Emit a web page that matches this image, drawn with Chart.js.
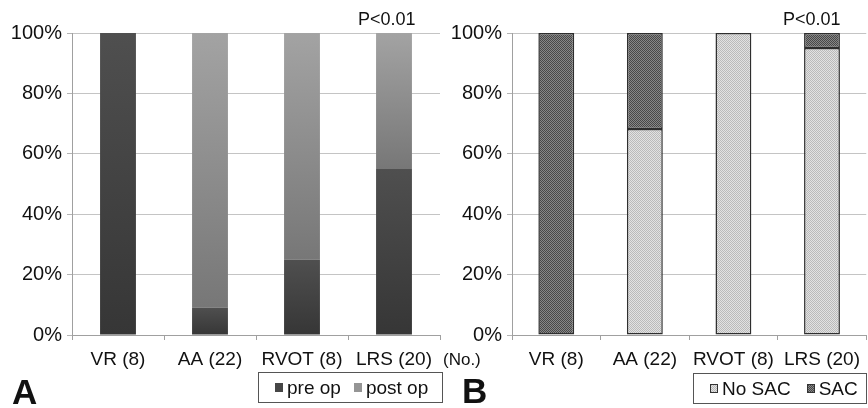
<!DOCTYPE html>
<html>
<head>
<meta charset="utf-8">
<script src="https://cdn.jsdelivr.net/npm/chart.js"></script>
<style>
  html, body { margin: 0; padding: 0; background: #fff; }
  body { width: 868px; height: 408px; position: relative; overflow: hidden;
         font-family: "Liberation Sans", Arial, sans-serif; color: #111; }
  canvas { position: absolute; top: 0; }
  #chartA { left: 0; }
  #chartB { left: 440px; }
  .note { position: absolute; white-space: nowrap; line-height: 1; }
  .panel { font-weight: bold; font-size: 35px; }
  .legend { position: absolute; box-sizing: border-box; height: 31px; border: 1px solid #555;
            background: #fff; display: flex; align-items: center; font-size: 19px; white-space: nowrap; }
  .legend .sq { display: inline-block; box-sizing: border-box; width: 8px; height: 9px; margin-right: 4px; }
</style>
</head>
<body>
<canvas id="chartA" width="445" height="408"></canvas>
<canvas id="chartB" width="428" height="408"></canvas>

<div class="note" style="left:358px; top:10px; font-size:18px;">P&lt;0.01</div>
<div class="note" style="left:783px; top:10px; font-size:18px;">P&lt;0.01</div>
<div class="note" style="left:443px; top:351px; font-size:17px;">(No.)</div>
<div class="note panel" style="left:12px; top:374px;">A</div>
<div class="note panel" style="left:462px; top:373px;">B</div>
<div class="legend" id="legendA" style="left:258px; top:372px; width:185px; padding-left:16px;"></div>
<div class="legend" id="legendB" style="left:693px; top:373px; width:174px; padding-left:16px;"></div>

<script>
// data (percent of patients per group)
const categories = ['VR (8)', 'AA (22)', 'RVOT (8)', 'LRS (20)'];
const percentTicks = [0, 20, 40, 60, 80, 100];

const preOp = [100, 9.1, 25, 55];
const postOp = [0, 90.9, 75, 45];

const noSac = [0, 68.2, 100, 95];
const sac = [100, 31.8, 0, 5];

// vertical shading inside each stacked segment (panel A)
function shade(ctx, top, bottom) {
  const chart = ctx.chart;
  if (!chart.chartArea || ctx.type !== 'data') return top;
  const y = chart.scales.y;
  let start = 0;
  for (let d = 0; d < ctx.datasetIndex; d++) start += chart.data.datasets[d].data[ctx.dataIndex];
  const end = start + chart.data.datasets[ctx.datasetIndex].data[ctx.dataIndex];
  const y1 = y.getPixelForValue(end), y2 = y.getPixelForValue(start);
  if (y2 - y1 < 1) return top;
  const g = chart.ctx.createLinearGradient(0, y1, 0, y2);
  g.addColorStop(0, top);
  g.addColorStop(1, bottom);
  return g;
}

// fine checker texture for panel B
function texture(base, dot) {
  const c = document.createElement('canvas');
  c.width = 4; c.height = 4;
  const g = c.getContext('2d');
  g.fillStyle = base;
  g.fillRect(0, 0, 4, 4);
  g.fillStyle = dot;
  for (let i = 0; i < 4; i++) {
    g.fillRect(i, i, 1, 1);
    g.fillRect((i + 2) % 4, i, 1, 1);
  }
  return c;
}
const noSacTex = texture('#e2e2e2', '#bababa');
const sacTex = texture('#878787', '#484848');
const ctx0 = document.createElement('canvas').getContext('2d');

function options(rightPad, barPct) {
  return {
    responsive: false,
    animation: false,
    devicePixelRatio: 1,
    layout: { padding: { left: 0, right: rightPad, top: 33, bottom: 0 } },
    datasets: { bar: { categoryPercentage: 1, barPercentage: barPct } },
    plugins: { legend: { display: false }, tooltip: { enabled: false } },
    scales: {
      x: {
        stacked: true,
        afterFit: s => { s.height = 73; },
        grid: { offset: true, drawOnChartArea: false, tickLength: 5, color: '#a0a0a0' },
        border: { color: '#a0a0a0' },
        ticks: { font: { family: '"Liberation Sans", Arial', size: 19 }, color: '#111', padding: 8,
                 maxRotation: 0, autoSkip: false }
      },
      y: {
        stacked: true,
        min: 0, max: 100,
        afterFit: s => { s.width = 72; },
        afterBuildTicks: s => { s.ticks = percentTicks.map(v => ({ value: v })); },
        grid: { color: '#c4c4c4', tickLength: 5, tickColor: '#b4b4b4' },
        border: { color: '#a0a0a0' },
        ticks: { font: { family: '"Liberation Sans", Arial', size: 20 }, color: '#111', padding: 5,
                 callback: v => v + '%' }
      }
    }
  };
}

const chartA = new Chart(document.getElementById('chartA'), {
  type: 'bar',
  data: {
    labels: categories,
    datasets: [
      { label: 'pre op', data: preOp, legendColor: '#464646',
        backgroundColor: c => shade(c, '#4f4f4f', '#363636') },
      { label: 'post op', data: postOp, legendColor: '#959595',
        backgroundColor: c => shade(c, '#a3a3a3', '#777777') }
    ]
  },
  options: options(5, 0.39)
});

const chartB = new Chart(document.getElementById('chartB'), {
  type: 'bar',
  data: {
    labels: categories,
    datasets: [
      { label: 'No SAC', data: noSac, tex: noSacTex,
        backgroundColor: ctx0.createPattern(noSacTex, 'repeat'),
        borderColor: '#2e2e2e', borderWidth: 1.5, borderSkipped: false },
      { label: 'SAC', data: sac, tex: sacTex,
        backgroundColor: ctx0.createPattern(sacTex, 'repeat'),
        borderColor: '#2e2e2e', borderWidth: 1.5, borderSkipped: false }
    ]
  },
  options: options(0, 0.405)
});

// boxed legends below each panel
function buildLegend(chart, id, gap) {
  const box = document.getElementById(id);
  chart.data.datasets.forEach((ds, i) => {
    const sq = document.createElement('span');
    sq.className = 'sq';
    if (ds.tex) {
      sq.style.backgroundImage = 'url(' + ds.tex.toDataURL() + ')';
      sq.style.border = '1px solid #333';
    } else {
      sq.style.background = ds.legendColor;
    }
    if (i > 0) sq.style.marginLeft = gap + 'px';
    const t = document.createElement('span');
    t.textContent = ds.label;
    box.appendChild(sq);
    box.appendChild(t);
  });
}
buildLegend(chartA, 'legendA', 13);
buildLegend(chartB, 'legendB', 16);
</script>
</body>
</html>
